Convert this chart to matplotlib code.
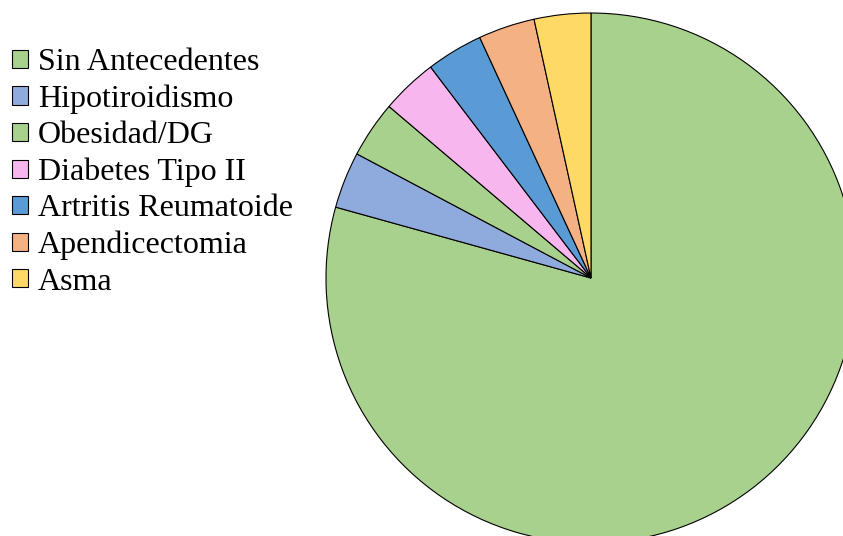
import matplotlib
matplotlib.use("Agg")
import matplotlib.pyplot as plt

# Datos
categorias = ["Sin Antecedentes", "Hipotiroidismo", "Obesidad/DG", "Diabetes Tipo II",
              "Artritis Reumatoide", "Apendicectomia", "Asma"]
valores = [23, 1, 1, 1, 1, 1, 1]
colores = ["#a9d18e", "#8faadc", "#a9d18e", "#f8b6ee", "#5b9bd5", "#f4b183", "#ffd966"]

plt.rcParams["font.family"] = ["Liberation Serif", "DejaVu Serif"]

fig = plt.figure(figsize=(8.43, 5.36), dpi=100)
# pie centrado en (591, 278) px con radio ~265 px
ax = fig.add_axes([0.3867, -0.0131, 0.6287, 0.9888])
wedges, _ = ax.pie(valores, colors=colores, startangle=90, counterclock=False,
                   radius=1, wedgeprops=dict(edgecolor="black", linewidth=0.8))
ax.set_xlim(-1, 1)
ax.set_ylim(-1, 1)
ax.set_aspect("equal")
ax.axis("off")

leg = fig.legend(wedges, categorias, loc="upper left", bbox_to_anchor=(-0.012, 0.952),
                 frameon=False, fontsize=23, handlelength=0.5, handleheight=0.5,
                 handletextpad=0.3, labelspacing=0.23, borderaxespad=0.3)

fig.savefig("out.png", dpi=100)
